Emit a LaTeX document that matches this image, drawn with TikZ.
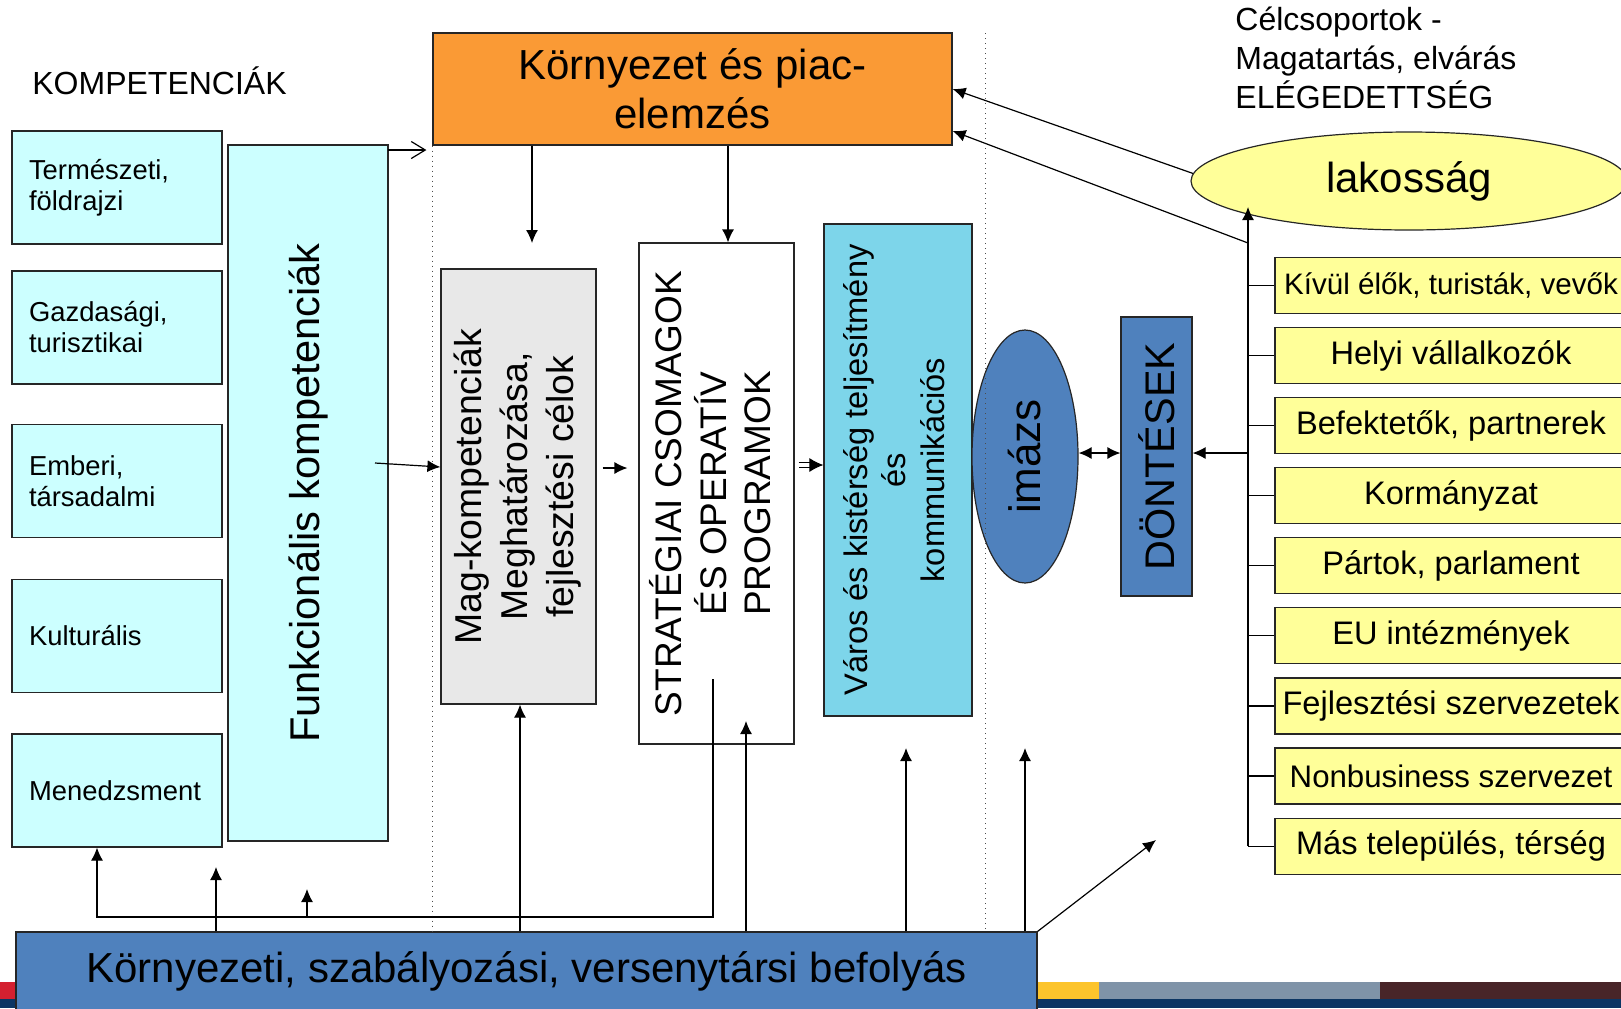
\documentclass[tikz,border=0pt]{standalone}
\usepackage{fontspec}
\setmainfont{Liberation Sans}
\usepackage{graphicx}
\usetikzlibrary{arrows.meta,shapes.geometric}

\definecolor{compcyan}{HTML}{CCFFFF}
\definecolor{piacorange}{HTML}{FA9A35}
\definecolor{maggray}{HTML}{E8E8E8}
\definecolor{varoscyan}{HTML}{7DD5EA}
\definecolor{steelblue}{HTML}{4F81BD}
\definecolor{lightyellow}{HTML}{FFFF99}
\definecolor{footred}{HTML}{D42030}
\definecolor{footyellow}{HTML}{FCC42C}
\definecolor{footgray}{HTML}{7F93A8}
\definecolor{footbrown}{HTML}{482528}
\definecolor{footnavy}{HTML}{0B3563}

\newcommand{\rotlines}[1]{\rotatebox{90}{\begin{tabular}{@{}c@{}}#1\end{tabular}}}

\tikzset{
  box/.style={draw=black!85, line width=0.6pt, inner sep=0pt},
  compbox/.style={box, fill=compcyan, minimum width=105pt, minimum height=56.5pt,
    text width=88pt, align=left, inner xsep=8.5pt, font=\fontsize{13.7}{15.5}\selectfont},
  groupbox/.style={box, fill=lightyellow, minimum width=176pt, minimum height=28pt,
    font=\fontsize{16.3}{19}\selectfont},
  arr/.style={-{Latex[length=6.5pt,width=6pt]}, line width=0.6pt},
  divider/.style={dotted, line width=0.5pt, black!70}
}

\begin{document}
\begin{tikzpicture}[x=0.5pt, y=-0.5pt]
  \useasboundingbox (0,0) rectangle (1621,1008);
  \clip (0,0) rectangle (1621,1008);
  \fill[white] (0,0) rectangle (1621,1008);

  \fill[footred] (0,982) rectangle (1037,999);
  \fill[footyellow] (1037,982) rectangle (1099,999);
  \fill[footgray] (1099,982) rectangle (1380,999);
  \fill[footbrown] (1380,982) rectangle (1621,999);
  \fill[footnavy] (0,999) rectangle (1621,1008);

  \node[anchor=base west, inner sep=0pt, font=\fontsize{16}{19}\selectfont] (kompcim) at (32,94) {KOMPETENCIÁK};
  \node[anchor=west, inner sep=0pt, align=left, font=\fontsize{16}{19.5}\selectfont] (celcim) at (1235,58)
    {Célcsoportok -\\Magatartás, elvárás\\ELÉGEDETTSÉG};

  \node[compbox] (termesz) at (117,187.5) {Természeti,\\földrajzi};
  \node[compbox] (gazd) at (117,327.5) {Gazdasági,\\turisztikai};
  \node[compbox] (ember) at (117,481) {Emberi,\\társadalmi};
  \node[compbox] (kult) at (117,636) {Kulturális};
  \node[compbox] (mened) at (117,790.5) {Menedzsment};

  \node[box, fill=compcyan, minimum width=80pt, minimum height=348pt, font=\fontsize{20.8}{24}\selectfont]
    (funk) at (308,493) {\rotatebox{90}{Funkcionális kompetenciák}};

  \node[box, fill=piacorange, minimum width=259.5pt, minimum height=56pt, align=center,
    font=\fontsize{21}{24.5}\selectfont] (piac) at (692.5,89) {Környezet és piac-\\elemzés};

  \node[box, fill=maggray, minimum width=77.5pt, minimum height=217.5pt, font=\fontsize{18.7}{23}\selectfont]
    (mag) at (518.5,486.5) {\rotlines{Mag-kompetenciák\\Meghatározása,\\fejlesztési célok}};

  \node[box, fill=white, minimum width=77.5pt, minimum height=250.5pt, font=\fontsize{18.5}{22}\selectfont]
    (strat) at (716.5,493.5) {\rotlines{STRATÉGIAI CSOMAGOK\\ÉS OPERATÍV\\PROGRAMOK}};

  \node[box, fill=varoscyan, minimum width=74pt, minimum height=246pt, font=\fontsize{16.3}{19.3}\selectfont]
    (varos) at (898,470) {\rotlines{Város és kistérség teljesítmény\\és\\kommunikációs}};

  \node[box, ellipse, fill=steelblue, minimum width=53pt, minimum height=126.5pt, font=\fontsize{22}{26}\selectfont]
    (imazs) at (1025,456.5) {\rotatebox{90}{imázs}};

  \node[box, fill=steelblue, minimum width=35.5pt, minimum height=139.5pt, font=\fontsize{20.7}{24}\selectfont]
    (dontes) at (1156.5,456.5) {\rotatebox{90}{DÖNTÉSEK}};

  \node[box, ellipse, fill=lightyellow, minimum width=218pt, minimum height=49pt, font=\fontsize{21}{25}\selectfont]
    (lakos) at (1409,181) {\raisebox{-2pt}{lakosság}};

  \node[groupbox, font=\fontsize{14.8}{19}\selectfont] (kivul) at (1451,285.3) {Kívül élők, turisták, vevők};
  \node[groupbox] (helyi) at (1451,355.4) {Helyi vállalkozók};
  \node[groupbox] (befekt) at (1451,425.5) {Befektetők, partnerek};
  \node[groupbox] (korm) at (1451,495.6) {Kormányzat};
  \node[groupbox] (partok) at (1451,565.7) {Pártok, parlament};
  \node[groupbox] (eu) at (1451,635.8) {EU intézmények};
  \node[groupbox] (fejl) at (1451,705.9) {Fejlesztési szervezetek};
  \node[groupbox, font=\fontsize{15.6}{19}\selectfont] (nonbus) at (1451,776) {Nonbusiness szervezet};
  \node[groupbox] (mas) at (1451,846.1) {Más település, térség};

  \node[box, fill=steelblue, minimum width=510.5pt, minimum height=39pt, font=\fontsize{21}{25}\selectfont]
    (befoly) at (526.5,971) {Környezeti, szabályozási, versenytársi befolyás};

  \coordinate (fo) at (388,150);
  \coordinate (fg) at (375,463);
  \coordinate (lvmag) at (0,467);
  \coordinate (lvstrat) at (0,468);
  \coordinate (lvvaros) at (0,465);
  \coordinate (lvdont) at (0,453);
  \coordinate (od1) at (532,243);
  \coordinate (od2) at (728,0);
  \coordinate (vtop) at (1248,207);
  \coordinate (vlak) at (1248,243);
  \coordinate (oa1) at (0,89);
  \coordinate (oa2) at (0,131);
  \coordinate (fb) at (713,679);
  \coordinate (fbc) at (97,917);
  \coordinate (fbm) at (307,917);
  \coordinate (fbt) at (307,889);
  \coordinate (t1) at (216,867);
  \coordinate (t2) at (520,0);
  \coordinate (t3) at (746,721);
  \coordinate (t4) at (906,748);
  \coordinate (t5) at (1025,748);
  \coordinate (t6) at (1156,840);
  \coordinate (d2) at (985,33);

  \draw[divider] (piac.south west) -- (piac.south west |- befoly.north);
  \draw[divider] (d2) -- (d2 |- befoly.north);

  \begin{scope}[arr]
    \draw[-{Straight Barb[length=7pt,width=8.5pt]}, shorten >=3pt] (fo) -- (piac.west |- fo);
    \draw (piac.south -| od1) -- (od1);
    \draw (piac.south -| od2) -- (strat.north -| od2);
    \draw (fg) -- (mag.west |- lvmag);
    \draw[shorten <=3pt, shorten >=5.5pt] (mag.east |- lvstrat) -- (strat.west |- lvstrat);
    \draw[double, double distance=2.2pt, line width=0.5pt, -{Latex[length=7pt,width=7pt]}, shorten <=2pt]
      (strat.east |- lvvaros) -- (varos.west |- lvvaros);
    \draw[{Latex[length=6.5pt,width=6pt]}-{Latex[length=6.5pt,width=6pt]}] (imazs.east |- lvdont) -- (dontes.west |- lvdont);
    \draw (lvdont -| vtop) -- (lvdont -| dontes.east);
    \draw (mas.west -| vtop) -- (vtop);
    \draw (lakos.178) -- (piac.east |- oa1);
    \draw (vlak) -- (piac.east |- oa2);
    \draw (fb) |- (fbc) -- (mened.south -| fbc);
    \draw (fbm) -- (fbt);
    \draw (befoly.north -| t1) -- (t1);
    \draw (befoly.north -| t2) -- (mag.south -| t2);
    \draw (befoly.north -| t3) -- (t3);
    \draw (befoly.north -| t4) -- (t4);
    \draw (befoly.north -| t5) -- (t5);
    \draw (befoly.north east) -- (t6);
  \end{scope}

  \begin{scope}[line width=0.6pt]
    \draw (kivul.west -| vtop) -- (kivul.west);
    \draw (helyi.west -| vtop) -- (helyi.west);
    \draw (befekt.west -| vtop) -- (befekt.west);
    \draw (korm.west -| vtop) -- (korm.west);
    \draw (partok.west -| vtop) -- (partok.west);
    \draw (eu.west -| vtop) -- (eu.west);
    \draw (fejl.west -| vtop) -- (fejl.west);
    \draw (nonbus.west -| vtop) -- (nonbus.west);
    \draw (mas.west -| vtop) -- (mas.west);
  \end{scope}
\end{tikzpicture}
\end{document}
